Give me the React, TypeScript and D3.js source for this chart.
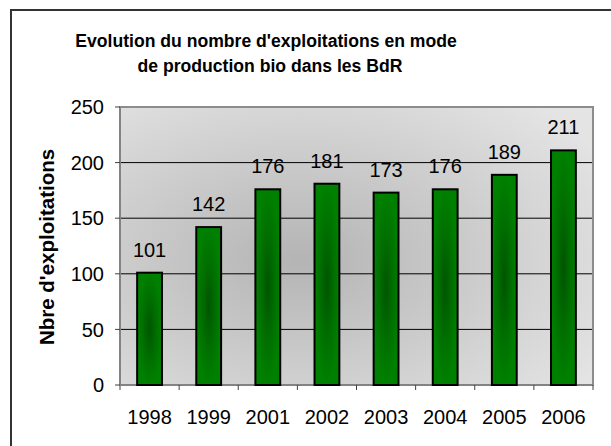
import React from 'react';
import * as d3 from 'd3';

const years = ['1998', '1999', '2001', '2002', '2003', '2004', '2005', '2006'];
const counts = [101, 142, 176, 181, 173, 176, 189, 211];
const yTicks = [0, 50, 100, 150, 200, 250];
const titleLines = ["Evolution du nombre d'exploitations en mode", 'de production bio dans les BdR'];
const yLabel = "Nbre d'exploitations";

const W = 611;
const H = 446;
const plot = { left: 120, top: 107, right: 593, bottom: 385 };
const font = 'Arial, "Liberation Sans", sans-serif';

const App: React.FC = () => {
  const x = d3.scaleBand<string>()
    .domain(years)
    .range([plot.left, plot.right])
    .paddingInner(0)
    .paddingOuter(0);
  const y = d3.scaleLinear().domain([0, 250]).range([plot.bottom, plot.top]);
  const step = x.step();
  const barW = step * 0.42;

  return (
    <svg width={W} height={H} style={{ position: 'absolute', left: 0, top: 0, background: '#fff' }}>
      <defs>
        <radialGradient id="bg" cx="0.38" cy="0.55" r="0.75">
          <stop offset="0%" stopColor="#b4b4b4" />
          <stop offset="100%" stopColor="#e4e4e4" />
        </radialGradient>
        <radialGradient id="bar" cx="0.5" cy="0.5" r="0.5">
          <stop offset="0%" stopColor="#005500" />
          <stop offset="55%" stopColor="#006f00" />
          <stop offset="100%" stopColor="#008000" />
        </radialGradient>
      </defs>

      {/* outer frame */}
      <rect x={11} y={10} width={W + 10} height={H + 10} fill="#fff" stroke="#333" strokeWidth={2} />

      {/* title */}
      <text textAnchor="middle" fontFamily={font} fontWeight="bold" fontSize={17.6} fill="#000">
        <tspan x={266} y={47}>{titleLines[0]}</tspan>
        <tspan x={270} y={72}>{titleLines[1]}</tspan>
      </text>

      {/* plot background */}
      <rect x={plot.left} y={plot.top} width={plot.right - plot.left} height={plot.bottom - plot.top}
        fill="url(#bg)" />

      {/* gridlines */}
      {yTicks.filter(t => t > 0 && t < 250).map(t => (
        <line key={t} x1={plot.left} x2={plot.right} y1={y(t)} y2={y(t)} stroke="#000" strokeWidth={1} />
      ))}

      <rect x={plot.left} y={plot.top} width={plot.right - plot.left} height={plot.bottom - plot.top}
        fill="none" stroke="#8c8c8c" strokeWidth={2} />

      {/* y axis */}
      <line x1={plot.left} x2={plot.left} y1={plot.top} y2={plot.bottom + 5} stroke="#808080" strokeWidth={1.5} />
      {yTicks.map(t => (
        <g key={t}>
          <line x1={plot.left - 5} x2={plot.left} y1={y(t)} y2={y(t)} stroke="#404040" strokeWidth={1} />
          <text x={plot.left - 16} y={y(t)} dy="0.36em" textAnchor="end" fontFamily={font} fontSize={20} fill="#000">{t}</text>
        </g>
      ))}

      {/* x axis */}
      <line x1={plot.left} x2={plot.right} y1={plot.bottom} y2={plot.bottom} stroke="#808080" strokeWidth={1.5} />
      {years.map((yr, i) => (
        <line key={'t' + yr} x1={plot.left + step * (i + 1)} x2={plot.left + step * (i + 1)}
          y1={plot.bottom} y2={plot.bottom + 5} stroke="#404040" strokeWidth={1} />
      ))}
      {years.map(yr => (
        <text key={'l' + yr} x={(x(yr) || 0) + step / 2} y={424} textAnchor="middle"
          fontFamily={font} fontSize={20} fill="#000">{yr}</text>
      ))}

      {/* bars */}
      {years.map((yr, i) => {
        const cx = (x(yr) || 0) + step / 2;
        return (
          <g key={'b' + yr}>
            <rect x={cx - barW / 2} y={y(counts[i])} width={barW} height={plot.bottom - y(counts[i])}
              fill="url(#bar)" stroke="#000" strokeWidth={2} />
            <text x={cx} y={y(counts[i]) - 16} textAnchor="middle" fontFamily={font} fontSize={20} fill="#000">
              {counts[i]}
            </text>
          </g>
        );
      })}

      {/* y label */}
      <text transform={`translate(54,247) rotate(-90)`} textAnchor="middle" fontFamily={font}
        fontWeight="bold" fontSize={20.5} fill="#000">{yLabel}</text>
    </svg>
  );
};

export default App;
